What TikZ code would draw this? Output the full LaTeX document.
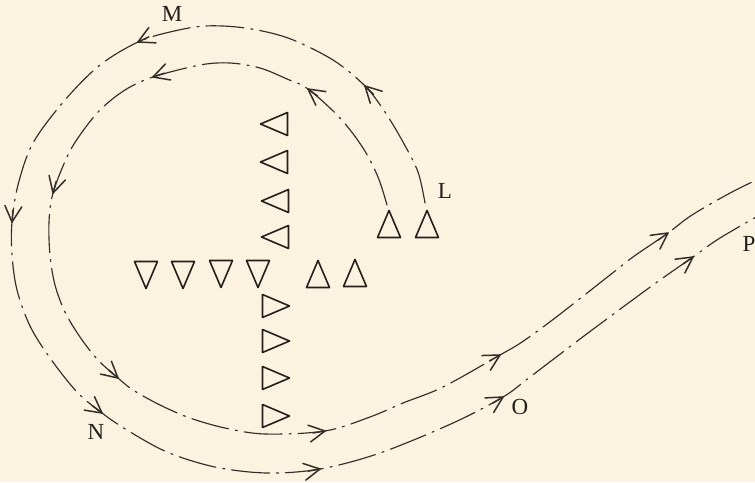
\documentclass[tikz,border=0pt]{standalone}
\usepackage{fontspec}
\setmainfont{Liberation Serif}
\usetikzlibrary{calc}
\definecolor{paper}{RGB}{251,243,223}
\definecolor{ink}{RGB}{50,46,40}
\definecolor{triink}{RGB}{35,32,28}
\tikzset{
  route/.style={draw=ink, line width=1.15pt, line cap=round,
    dash pattern=on 38pt off 7pt on 2pt off 7pt},
  headmark/.style={draw=ink, solid, line width=1.5pt, line cap=round, line join=round},
  tri/.style={draw=triink, line width=1.6pt, line join=round},
  triU/.pic={\draw[tri] (-11.5,13.5) -- (11.5,13.5) -- (0,-13.5) -- cycle;},
  triD/.pic={\draw[tri] (-11.5,-13.5) -- (11.5,-13.5) -- (0,13.5) -- cycle;},
  triL/.pic={\draw[tri] (13.5,-11.5) -- (13.5,11.5) -- (-13.5,0) -- cycle;},
  triR/.pic={\draw[tri] (-13.5,-11.5) -- (-13.5,11.5) -- (13.5,0) -- cycle;},
  lab/.style={font=\fontsize{23}{23}\selectfont, inner sep=0pt, text=triink}
}
% open barb at #1, pointing along the tangent from (#2) to (#3)
\newcommand\arrowmark[3]{%
  \coordinate (back) at ($(#1)+(#2)-(#3)$);
  \draw[headmark] ($(#1)!18pt!28:(back)$) -- (#1) -- ($(#1)!18pt!-28:(back)$);
  \draw[headmark] ($(#1)!12pt!(back)$) -- (#1);}
\begin{document}
\begin{tikzpicture}[x=1pt,y=-1pt]
\useasboundingbox (0,0) rectangle (755,482);
\fill[paper] (0,0) rectangle (755,482);
\clip (0,0) rectangle (755,482);

% arrow points of the outer route
\coordinate (a0) at (425,203);
\coordinate (a1) at (365,86);
\coordinate (a2) at (138,42);
\coordinate (a3) at (12,222);
\coordinate (a4) at (102,413);
\coordinate (a5) at (320,469);
\coordinate (a6) at (503,397);
\coordinate (a7) at (693,257);
\coordinate (a8) at (765,212);
% arrow points of the inner route
\coordinate (b0) at (387,205);
\coordinate (b1) at (308,89);
\coordinate (b2) at (153,77);
\coordinate (b3) at (53,193);
\coordinate (b4) at (118,378);
\coordinate (b5) at (325,431);
\coordinate (b6) at (500,355);
\coordinate (b7) at (668,233);
\coordinate (b8) at (765,176);

% outer route
\draw[route] plot[smooth,tension=0.55] coordinates {(a0) (418,172) (403,142) (385,112) (a1)
  (333,60) (288,38) (245,28) (205,26) (170,32) (a2)
  (100,65) (65,100) (33,143) (18,185) (a3)
  (12,255) (17,290) (30,326) (50,358) (77,392) (a4)
  (127,430) (167,452) (215,467) (267,473) (a5)
  (380,453) (453,423) (a6)
  (530,377) (588,333) (653,285) (a7)
  (720,238) (a8)};
\arrowmark{a1}{385,112}{333,60}
\arrowmark{a2}{170,32}{100,65}
\arrowmark{a3}{18,185}{12,255}
\arrowmark{a4}{77,392}{127,430}
\arrowmark{a5}{267,473}{380,453}
\arrowmark{a6}{453,423}{530,377}
\arrowmark{a7}{653,285}{720,238}

% inner route
\draw[route] plot[smooth,tension=0.55] coordinates {(b0) (378,177) (363,148) (340,118) (b1)
  (287,79) (260,68) (230,63) (200,65) (b2)
  (125,90) (100,110) (80,135) (67,157) (b3)
  (49,222) (50,255) (55,285) (65,312) (80,337) (98,360) (b4)
  (133,390) (160,405) (190,418) (225,428) (265,434) (b5)
  (370,417) (403,403) (443,387) (b6)
  (522,342) (555,318) (610,275) (633,257) (b7)
  (692,215) (732,192) (b8)};
\arrowmark{b1}{340,118}{287,79}
\arrowmark{b2}{200,65}{125,90}
\arrowmark{b3}{67,157}{49,222}
\arrowmark{b4}{98,360}{133,390}
\arrowmark{b5}{265,434}{370,417}
\arrowmark{b6}{443,387}{522,342}
\arrowmark{b7}{633,257}{692,215}

% triangles
\pic (l1) at (274,124) {triL};
\pic (l2) at (274,162) {triL};
\pic (l3) at (275,201) {triL};
\pic (l4) at (275,237) {triL};
\pic (d1) at (146,275) {triD};
\pic (d2) at (183,275) {triD};
\pic (d3) at (221,274) {triD};
\pic (d4) at (258,274) {triD};
\pic (u1) at (318,274) {triU};
\pic (u2) at (355,273) {triU};
\pic (r1) at (276,306) {triR};
\pic (r2) at (276,341) {triR};
\pic (r3) at (276,378) {triR};
\pic (r4) at (276,416) {triR};
\pic (t1) at (389,224) {triU};
\pic (t2) at (427,224) {triU};

% labels
\node[lab] (M) at (172,14) {M};
\node[lab] (L) at (445,191) {L};
\node[lab] (N) at (96,432) {N};
\node[lab] (O) at (520,407) {O};
\node[lab] (P) at (749,244) {P};
\end{tikzpicture}
\end{document}
